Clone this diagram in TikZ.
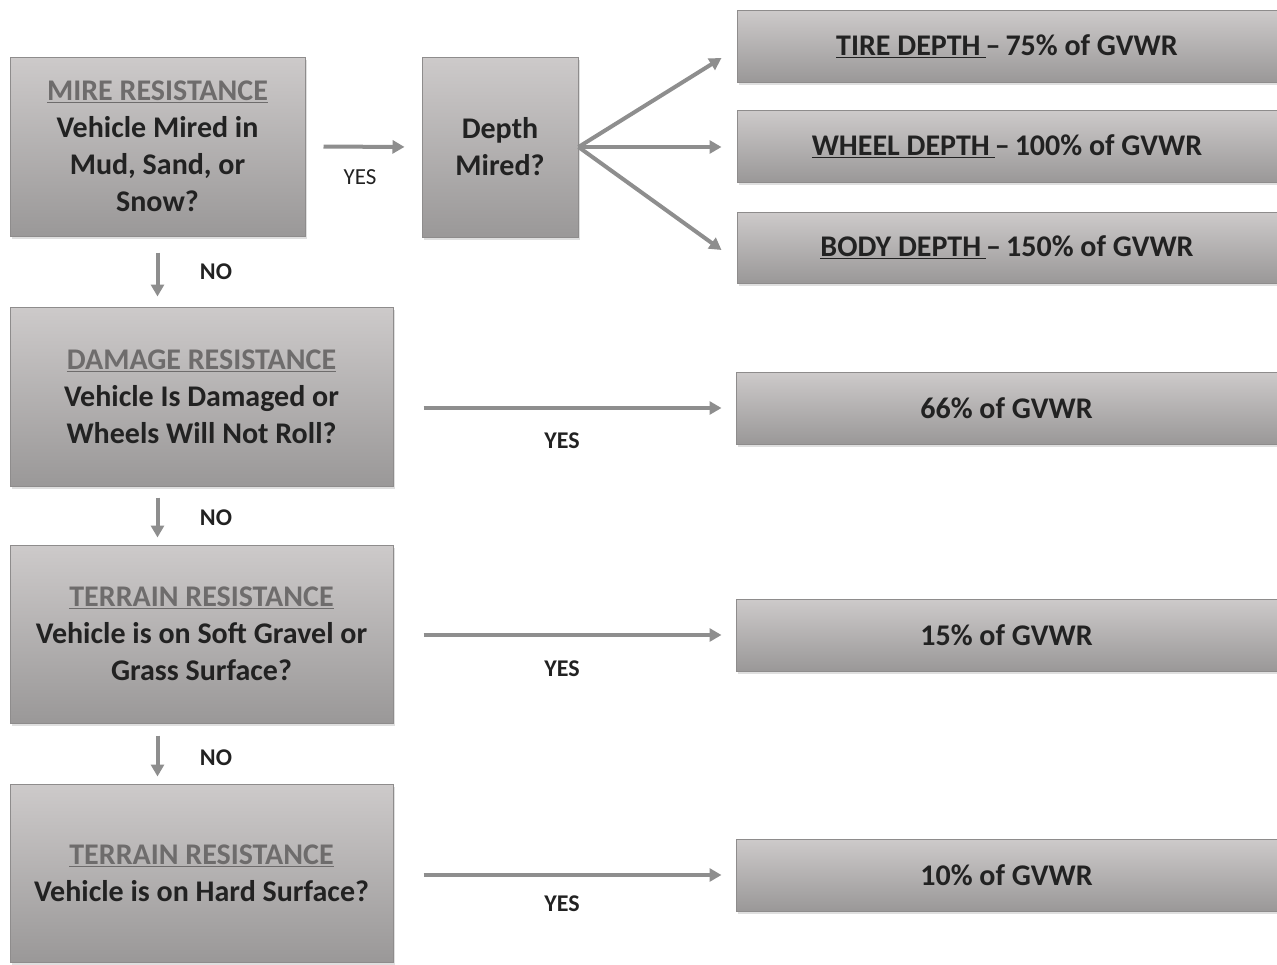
\documentclass[tikz,border=0pt]{standalone}
\usepackage{fontspec}
\setmainfont{Carlito}
\usetikzlibrary{arrows.meta,shadows,calc}
\definecolor{boxtop}{HTML}{CDCACA}
\definecolor{boxbot}{HTML}{9A9898}
\definecolor{boxline}{HTML}{8E8C8C}
\definecolor{arrowgray}{HTML}{8E8E8E}
\definecolor{headgray}{HTML}{6E6C6C}
\definecolor{txt}{HTML}{222222}
\newcommand{\hd}[1]{\textcolor{headgray}{\underline{#1}}}
\tikzset{
  box/.style={draw=boxline, line width=1pt, top color=boxtop, bottom color=boxbot,
    drop shadow={opacity=0.25, shadow xshift=2pt, shadow yshift=-3pt},
    inner sep=0pt, align=center, text=txt,
    font=\fontsize{30}{37}\selectfont\bfseries},
  conn/.style={draw=arrowgray, line width=4pt, -{Triangle[length=12pt,width=13pt]}},
  lab/.style={font=\fontsize{24}{28}\selectfont\bfseries, text=txt, inner sep=0pt}
}
\begin{document}
\begin{tikzpicture}[x=1pt,y=-1pt]
\useasboundingbox (0,0) rectangle (1277,964);
% left column
\node[box, minimum width=295pt, minimum height=179pt] (mire) at (157.5,146.5)
  {\hd{MIRE RESISTANCE}\\Vehicle Mired in\\Mud, Sand, or\\Snow?};
\node[box, minimum width=383pt, minimum height=179pt] (damage) at (201.5,396.5)
  {\hd{DAMAGE RESISTANCE}\\Vehicle Is Damaged or\\Wheels Will Not Roll?};
\node[box, minimum width=383pt, minimum height=178pt] (terrain) at (201.5,634)
  {\hd{TERRAIN RESISTANCE}\\Vehicle is on Soft Gravel or\\Grass Surface?};
\node[box, minimum width=383pt, minimum height=178pt] (hard) at (201.5,873)
  {\hd{TERRAIN RESISTANCE}\\Vehicle is on Hard Surface?};
% depth
\node[box, minimum width=156pt, minimum height=180pt] (depth) at (500,147)
  {Depth\\Mired?};
% right column
\node[box, minimum width=540pt, minimum height=72pt] (tire) at (1007,46)
  {\underline{TIRE DEPTH\,}--\,75\% of GVWR};
\node[box, minimum width=540pt, minimum height=72pt] (wheel) at (1007,146)
  {\underline{WHEEL DEPTH\,}--\,100\% of GVWR};
\node[box, minimum width=540pt, minimum height=71pt] (body) at (1007,247.5)
  {\underline{BODY DEPTH\,}--\,150\% of GVWR};
\node[box, minimum width=541pt, minimum height=72pt] (r66) at (1006.5,408)
  {66\% of GVWR};
\node[box, minimum width=541pt, minimum height=72pt] (r15) at (1006.5,635)
  {15\% of GVWR};
\node[box, minimum width=541pt, minimum height=72pt] (r10) at (1006.5,875)
  {10\% of GVWR};
% connectors
\draw[conn, shorten <=18pt, shorten >=17pt] (mire.east) -- (depth.west);
\node[lab, font=\fontsize{23}{26}\selectfont] (y1) at (360,177) {YES};
\coordinate (tireend) at ($(tire.west)+(-15,12)$);
\coordinate (bodyend) at ($(body.west)+(-15,2.5)$);
\draw[conn] (depth.east) -- (tireend);
\draw[conn, shorten >=15pt] (depth.east) -- (depth.east -| wheel.west);
\draw[conn] (depth.east) -- (bodyend);
\draw[conn, shorten <=16pt, shorten >=10pt] (mire.south) -- (mire.south |- damage.north);
\node[lab] (n1) at (216,272) {NO};
\draw[conn, shorten <=11pt, shorten >=7pt] (mire.south |- damage.south) -- (mire.south |- terrain.north);
\node[lab] (n2) at (216,518) {NO};
\draw[conn, shorten <=12pt, shorten >=7pt] (mire.south |- terrain.south) -- (mire.south |- hard.north);
\node[lab] (n3) at (216,758) {NO};
\draw[conn, shorten <=30pt, shorten >=14pt] (damage.east |- r66.west) -- (r66.west);
\node[lab] (y2) at (562,441) {YES};
\draw[conn, shorten <=30pt, shorten >=14pt] (terrain.east |- r15.west) -- (r15.west);
\node[lab] (y3) at (562,669) {YES};
\draw[conn, shorten <=30pt, shorten >=14pt] (hard.east |- r10.west) -- (r10.west);
\node[lab] (y4) at (562,904) {YES};
\end{tikzpicture}
\end{document}
